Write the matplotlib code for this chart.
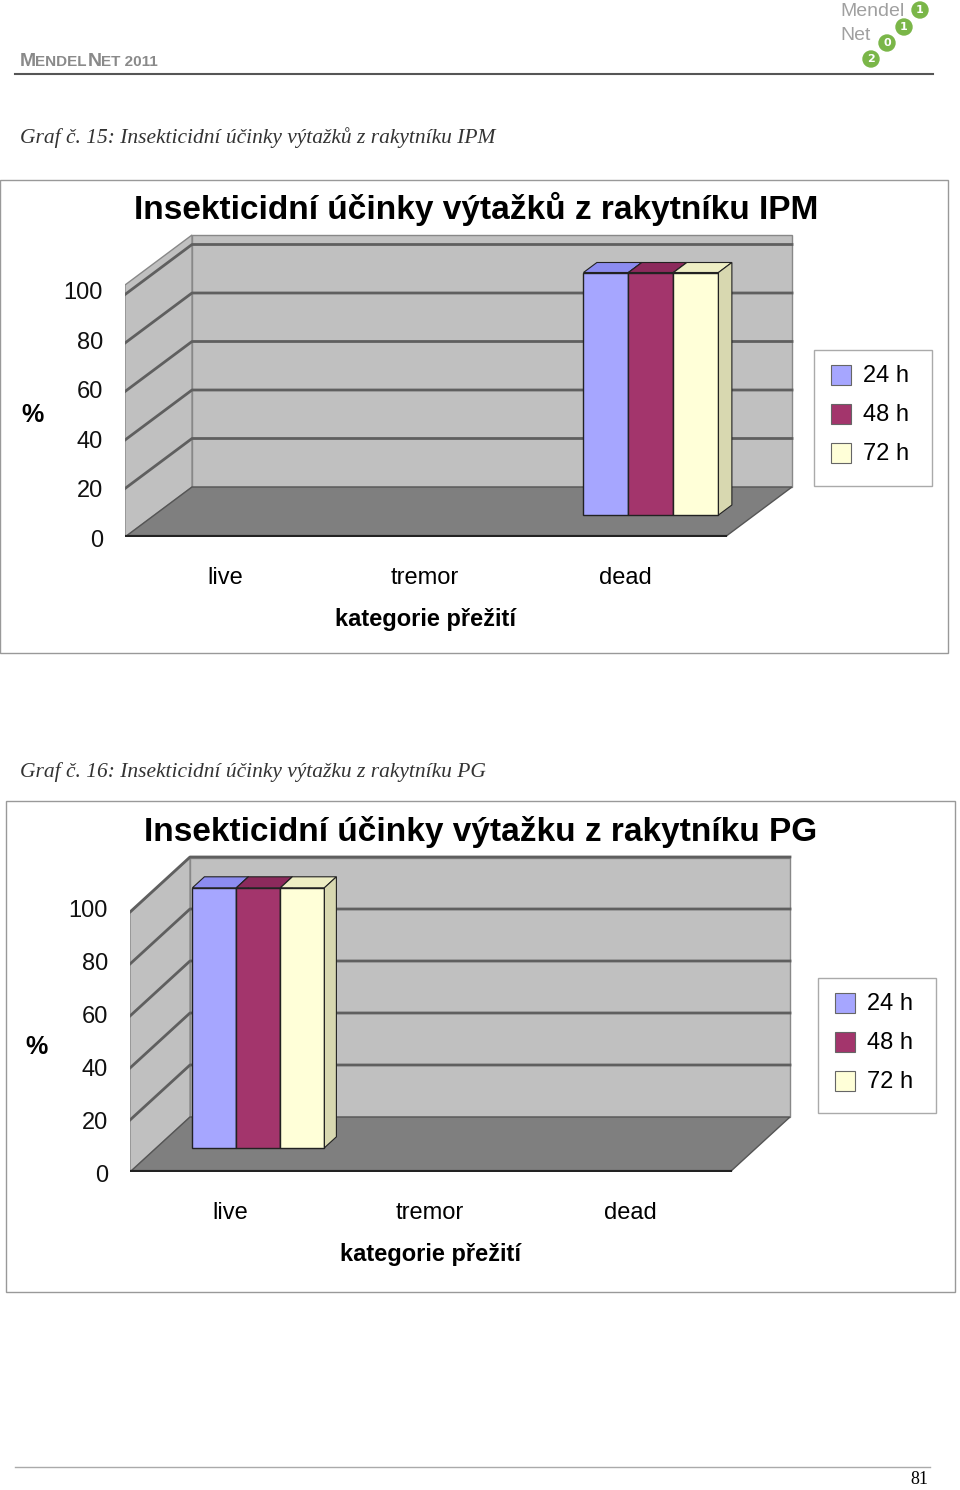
import matplotlib
matplotlib.use("Agg")
import matplotlib.pyplot as plt
from matplotlib.patches import Polygon, Rectangle, Circle

categories = ["live", "tremor", "dead"]
series = ["24 h", "48 h", "72 h"]
ticks = [0, 20, 40, 60, 80, 100]
ipm_values = [[0, 0, 100], [0, 0, 100], [0, 0, 100]]   # per series, per category
pg_values = [[100, 0, 0], [100, 0, 0], [100, 0, 0]]
colors = ["#a6a6ff", "#a3356c", "#ffffd8"]
side_colors = ["#8080d0", "#7a2450", "#d8d8b0"]
top_colors = ["#8c8cf0", "#8c2a5c", "#eeeec4"]

W, H = 960, 1490
fig = plt.figure(figsize=(W / 100, H / 100), dpi=100)
page = fig.add_axes([0, 0, 1, 1])
page.set_xlim(0, W); page.set_ylim(H, 0); page.axis("off")
SANS = "Liberation Sans"; SERIF = "Liberation Serif"

# header
page.text(20, 61, "M", fontsize=14, color="#8a8a8a", fontweight="bold", family=SANS, va="center")
page.text(35, 62, "ENDEL", fontsize=11, color="#8a8a8a", fontweight="bold", family=SANS, va="center")
page.text(88, 61, "N", fontsize=14, color="#8a8a8a", fontweight="bold", family=SANS, va="center")
page.text(101, 62, "ET 2011", fontsize=11, color="#8a8a8a", fontweight="bold", family=SANS, va="center")
page.plot([15, 933], [74, 74], color="#555555", lw=1.5)
page.text(840, 12, "Mendel", fontsize=14, color="#a0a0a0", family=SANS, va="center")
page.text(840, 36, "Net", fontsize=14, color="#a0a0a0", family=SANS, va="center")
for (cx, cy, t) in [(920, 10, "1"), (904, 27, "1"), (887, 43, "0"), (871, 59, "2")]:
    page.add_patch(Circle((cx, cy), 8, color="#7ab648"))
    page.text(cx, cy, t, fontsize=8, color="white", ha="center", va="center", fontweight="bold")
page.plot([15, 930], [1467, 1467], color="#aaaaaa", lw=1)
page.text(928, 1480, "81", fontsize=13, family=SERIF, ha="right", va="center")


def chart(cap_y, caption, frame, title, title_xy, ax_px, ppu, depth_px, bar_off, bar_w,
          values, pct_xy, leg):
    page.text(20, cap_y, caption, fontsize=15.5, family=SERIF, style="italic", color="#333333", va="center")
    fx0, fy0, fx1, fy1 = frame
    page.add_patch(Rectangle((fx0, fy0), fx1 - fx0, fy1 - fy0, fill=False, ec="#999999", lw=1))
    page.text(title_xy[0], title_xy[1], title, fontsize=24, fontweight="bold", family=SANS,
              ha="center", va="center")
    x0, ytop, ybot = ax_px
    ymax = (ybot - ytop) / ppu
    ax = fig.add_axes([x0 / W, 1 - ybot / H, 680 / W, (ybot - ytop) / H])
    ax.set_xlim(0, 3.4); ax.set_ylim(0, ymax); ax.axis("off")
    dx = depth_px[0] / 200; dy = depth_px[1] / ppu
    top = ymax - 3 / ppu
    ax.add_patch(Polygon([(dx, dy), (3 + dx, dy), (3 + dx, top), (dx, top)], fc="#c0c0c0", ec="#888888", lw=1))
    ax.add_patch(Polygon([(0, 0), (dx, dy), (dx, top), (0, top - dy)], fc="#c0c0c0", ec="#888888", lw=1))
    ax.add_patch(Polygon([(0, 0), (3, 0), (3 + dx, dy), (dx, dy)], fc="#7f7f7f", ec="#555555", lw=1))
    for v in ticks[1:]:
        ax.plot([0, dx, 3 + dx], [v, v + dy, v + dy], color="#5f5f5f", lw=2)
    ax.plot([0, 3], [0, 0], color="#222222", lw=3)
    for v in ticks:
        ax.text(-0.11, v * 1.02 - 1.5, str(v), fontsize=17, family=SANS, ha="right", va="center", color="#111111")
    for c, name in enumerate(categories):
        ax.text(c + 0.5, -17 * 2.425 / ppu, name, fontsize=17, family=SANS, ha="center", va="center")
    ax.text(1.5, -34 * 2.425 / ppu, "kategorie přežití", fontsize=17, family=SANS,
            fontweight="bold", ha="center", va="center")
    f = 0.44; sx, sy = f * dx, f * dy
    bx, by = 0.2 * dx, 0.2 * dy
    for c in range(3):
        for i in range(3):
            v = values[i][c]
            if v <= 0:
                continue
            xl = c + bar_off + i * bar_w + sx
            ax.bar(xl, v, width=bar_w, bottom=sy, align="edge", color=colors[i], ec="#222222", lw=1, zorder=3)
            ax.add_patch(Polygon([(xl, v + sy), (xl + bar_w, v + sy), (xl + bar_w + bx, v + sy + by),
                                  (xl + bx, v + sy + by)], fc=top_colors[i], ec="#222222", lw=0.8, zorder=3))
            ax.add_patch(Polygon([(xl + bar_w, sy), (xl + bar_w + bx, sy + by), (xl + bar_w + bx, v + sy + by),
                                  (xl + bar_w, v + sy)], fc=side_colors[i], ec="#222222", lw=0.8, zorder=3))
    page.text(pct_xy[0], pct_xy[1], "%", fontsize=18, fontweight="bold", family=SANS, ha="center", va="center")
    lx0, ly0, lx1, ly1 = leg
    page.add_patch(Rectangle((lx0, ly0), lx1 - lx0, ly1 - ly0, fill=False, ec="#aaaaaa", lw=1))
    for i, s in enumerate(series):
        yy = ly0 + 25 + i * 39
        page.add_patch(Rectangle((lx0 + 17, yy - 10), 20, 20, fc=colors[i], ec="#666666", lw=0.8))
        page.text(lx0 + 49, yy + 1, s, fontsize=17, family=SANS, va="center")


chart(138, "Graf č. 15: Insekticidní účinky výtažků z rakytníku IPM", (0, 180, 948, 653),
      "Insekticidní účinky výtažků z rakytníku IPM", (476, 209), (125, 232, 537), 2.425,
      (67, 50), 0.145, 0.225, ipm_values, (32, 415), (814, 350, 932, 486))
chart(772, "Graf č. 16: Insekticidní účinky výtažku z rakytníku PG", (6, 801, 955, 1292),
      "Insekticidní účinky výtažku z rakytníku PG", (481, 832), (130, 855, 1172), 2.6,
      (60, 55), 0.18, 0.22, pg_values, (37, 1047), (818, 978, 936, 1113))

fig.savefig("out.png", dpi=100)
